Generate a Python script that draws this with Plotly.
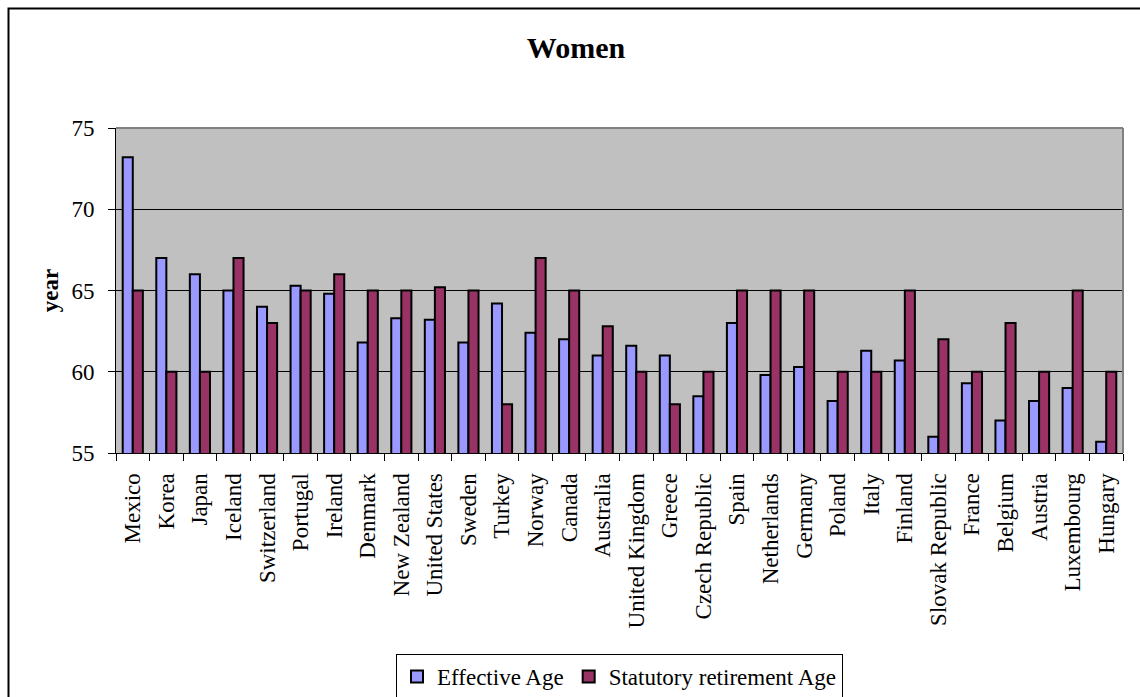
import plotly.graph_objects as go

# Countries, ordered by the chart's original sequence
countries = [
    "Mexico", "Korea", "Japan", "Iceland", "Switzerland", "Portugal", "Ireland",
    "Denmark", "New Zealand", "United States", "Sweden", "Turkey", "Norway",
    "Canada", "Australia", "United Kingdom", "Greece", "Czech Republic", "Spain",
    "Netherlands", "Germany", "Poland", "Italy", "Finland", "Slovak Republic",
    "France", "Belgium", "Austria", "Luxembourg", "Hungary",
]

# Average effective age of retirement, women
effective_age = [
    73.2, 67.0, 66.0, 65.0, 64.0, 65.3, 64.8, 61.8, 63.3, 63.2,
    61.8, 64.2, 62.4, 62.0, 61.0, 61.6, 61.0, 58.5, 63.0, 59.8,
    60.3, 58.2, 61.3, 60.7, 56.0, 59.3, 57.0, 58.2, 59.0, 55.7,
]

# Official (statutory) retirement age, women
statutory_age = [
    65, 60, 60, 67, 63, 65, 66, 65, 65, 65.2,
    65, 58, 67, 65, 62.8, 60, 58, 60, 65, 65,
    65, 60, 60, 65, 62, 60, 63, 60, 65, 60,
]

y_ticks = [55, 60, 65, 70, 75]

FONT = "Liberation Serif, Times New Roman, serif"

W, H = 1140, 697
L, R, T, B = 116, 17, 128, 244  # plot area margins in px
pw = W - L - R
ph = H - T - B


def px_x(p):
    return (p - L) / pw


def px_y(p):
    return (H - B - p) / ph


fig = go.Figure()
fig.add_trace(go.Bar(
    x=countries, y=effective_age, name="Effective Age",
    marker=dict(color="#9999FF", line=dict(color="black", width=2)),
))
fig.add_trace(go.Bar(
    x=countries, y=statutory_age, name="Statutory retirement Age",
    marker=dict(color="#993366", line=dict(color="black", width=2)),
))

shapes = [
    # outer chart frame
    dict(type="rect", xref="paper", yref="paper",
         x0=px_x(8.5), x1=px_x(W + 5), y0=px_y(H + 5), y1=px_y(8.5),
         line=dict(color="black", width=2), layer="above"),
    # grey plot-area frame, top and right
    dict(type="line", xref="paper", yref="paper",
         x0=0, x1=1, y0=1, y1=1,
         line=dict(color="#808080", width=2), layer="above"),
    dict(type="line", xref="paper", yref="paper",
         x0=1, x1=1, y0=0, y1=1,
         line=dict(color="#808080", width=2), layer="above"),
]

fig.update_layout(
    width=W, height=H,
    margin=dict(l=L, r=R, t=T, b=B, pad=0, autoexpand=False),
    paper_bgcolor="white",
    plot_bgcolor="#C0C0C0",
    barmode="group",
    bargap=0.40,
    bargroupgap=0,
    font=dict(family=FONT, size=23, color="black"),
    title=dict(
        text="Women", x=576 / W, xanchor="center",
        y=1 - 47 / H, yanchor="middle",
        font=dict(family=FONT, size=30, color="black", weight="bold"),
    ),
    showlegend=True,
    legend=dict(
        orientation="h",
        x=0.5, xanchor="center",
        y=px_y(654), yanchor="top",
        bgcolor="white",
        bordercolor="black", borderwidth=1,
        font=dict(family=FONT, size=23, color="black"),
        itemwidth=30,
        traceorder="normal",
    ),
    shapes=shapes,
)

fig.update_xaxes(
    type="category",
    automargin=False,
    tickangle=-90,
    ticks="outside", ticklen=7, tickcolor="black", tickwidth=1,
    tickson="boundaries",
    showline=True, linecolor="black", linewidth=1,
    showgrid=False,
    tickfont=dict(family=FONT, size=23, color="black"),
    ticklabelstandoff=10,
)

fig.update_yaxes(
    range=[55, 75],
    automargin=False,
    tickvals=y_ticks,
    ticks="outside", ticklen=7, tickcolor="black", tickwidth=1,
    showline=True, linecolor="black", linewidth=1,
    showgrid=True, gridcolor="black", gridwidth=1,
    zeroline=False,
    tickfont=dict(family=FONT, size=23, color="black"),
    ticklabelstandoff=9,
    title=dict(text="year", standoff=6,
               font=dict(family=FONT, size=23, color="black", weight="bold")),
)

fig.write_html("out.html")
